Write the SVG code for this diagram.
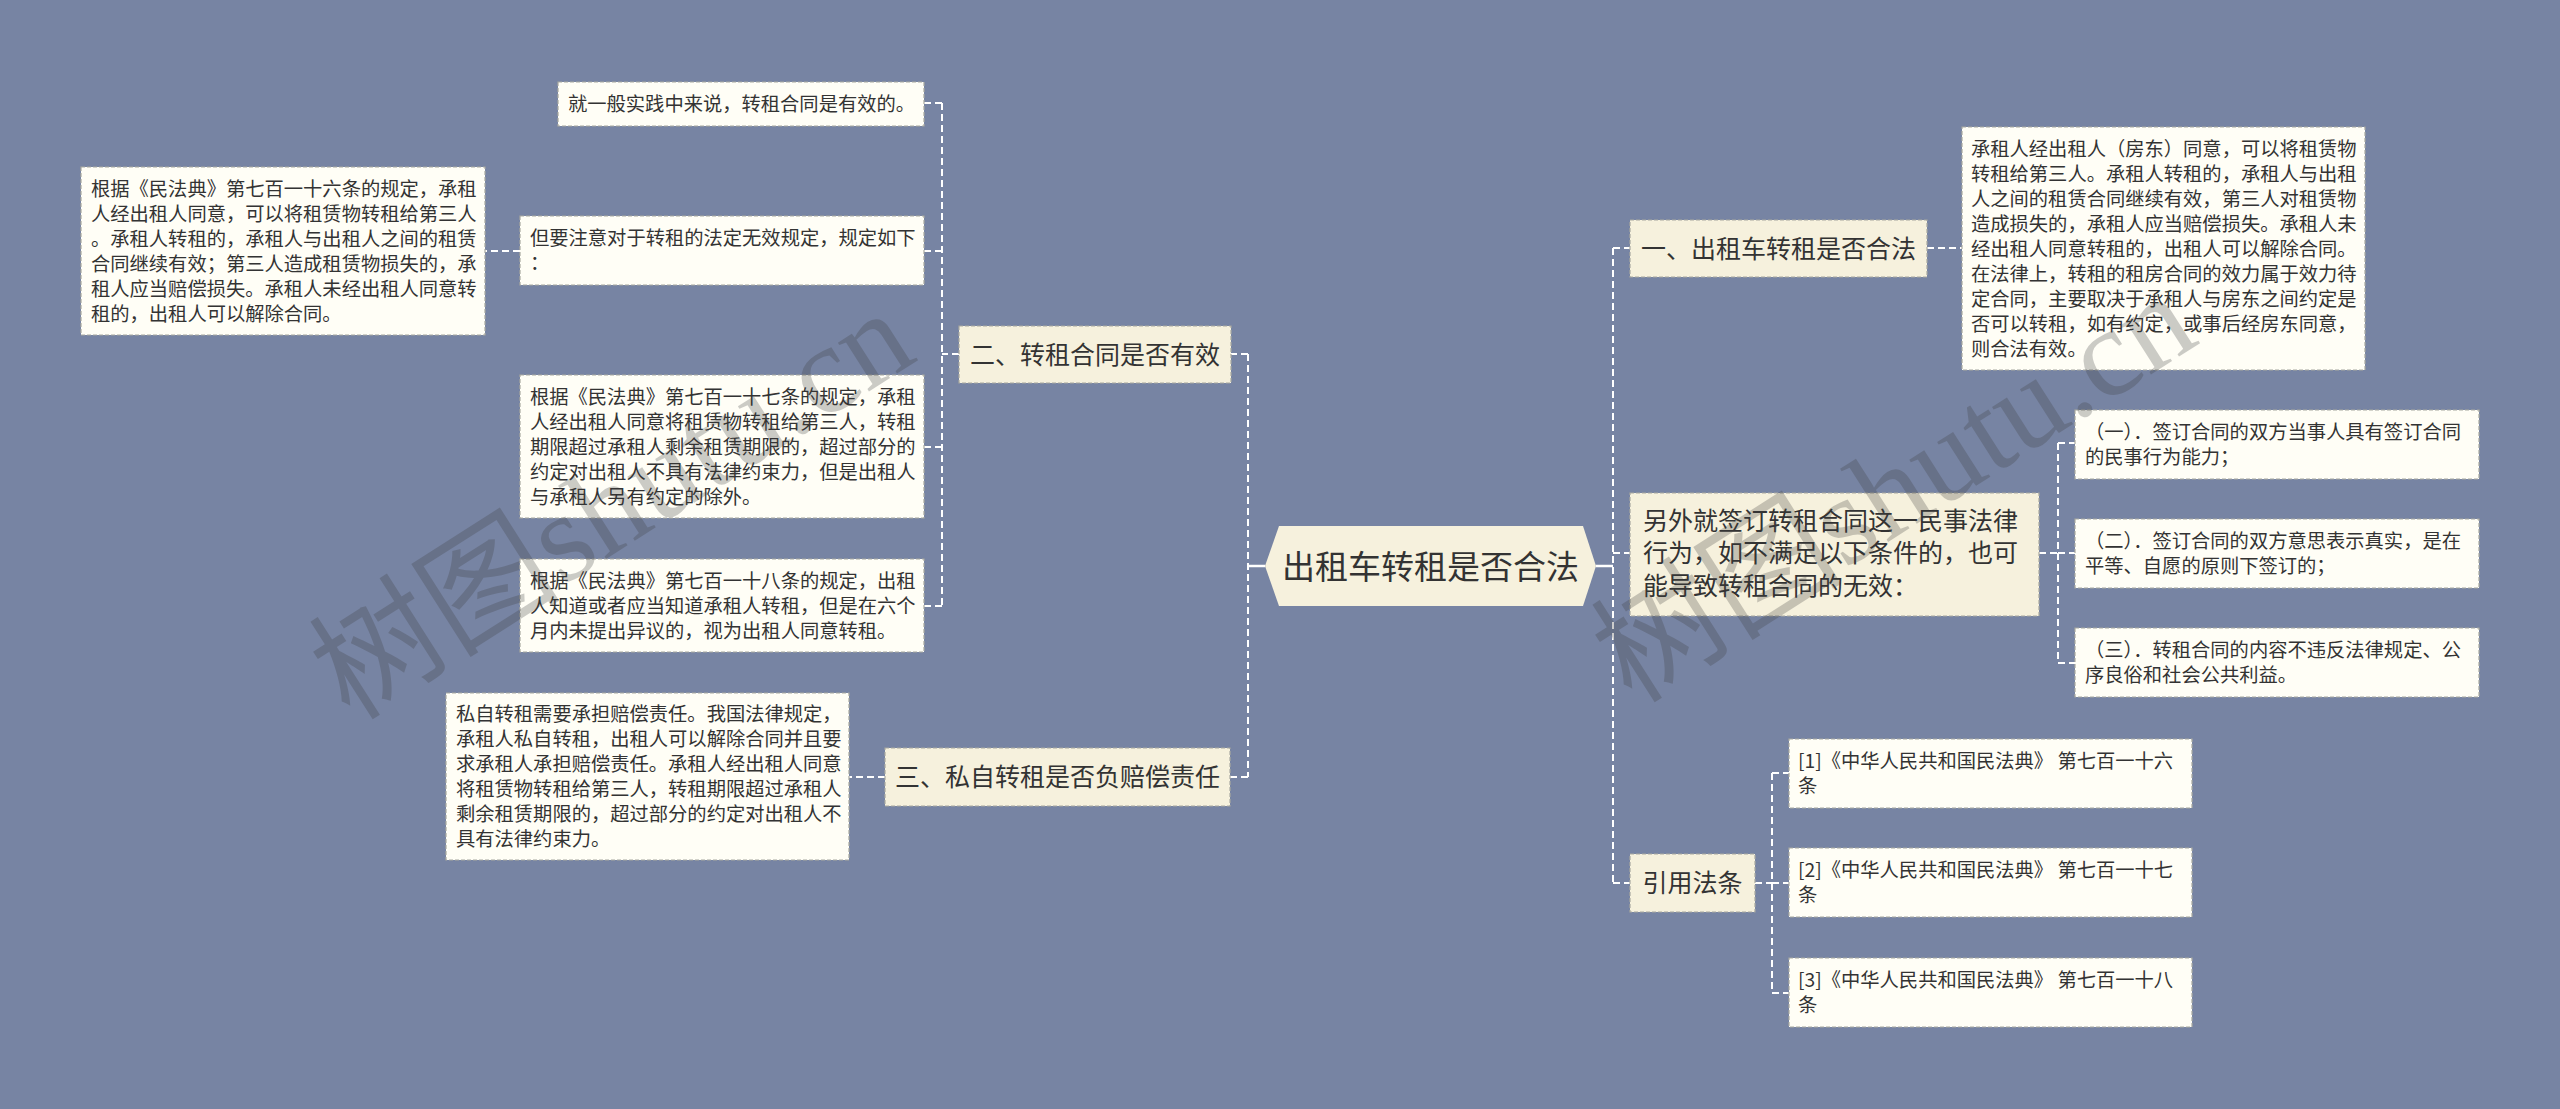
<svg xmlns="http://www.w3.org/2000/svg" width="2560" height="1109" viewBox="0 0 2560 1109">
<style>
.bg{fill:#7784a3}
.leaf{fill:#fffef6;stroke:#a8a8a0;stroke-width:1.2;stroke-dasharray:4 2}
.l1{fill:#f6f1dd;stroke:#a8a8a0;stroke-width:1.2;stroke-dasharray:4 2}
.root{fill:#f6f1dd}
.t{font-family:"Noto Sans CJK SC","Liberation Sans",sans-serif;fill:#333}
.ts{font-size:19.3px}
.tm{font-size:25px}
.tr{font-size:33px}
.c{fill:none;stroke:#ffffff;stroke-width:2;stroke-dasharray:7 4}
.cs{fill:none;stroke:#ffffff;stroke-width:2.5}
.wm{font-family:"Liberation Serif","Noto Sans CJK SC",serif;font-size:126px;fill:#3c3c3c;opacity:0.26}
</style>
<rect class="bg" x="0" y="0" width="2560" height="1109"/>

<g id="connectors">
  <line class="cs" x1="1265" y1="566" x2="1248" y2="566"/>
  <line class="c" x1="1248" y1="354" x2="1248" y2="777"/>
  <line class="c" x1="1248" y1="354" x2="1231" y2="354"/>
  <line class="c" x1="1248" y1="777" x2="1230" y2="777"/>
  <line class="c" x1="959" y1="354" x2="942" y2="354"/>
  <line class="c" x1="942" y1="103" x2="942" y2="606"/>
  <line class="c" x1="942" y1="103" x2="924" y2="103"/>
  <line class="c" x1="942" y1="251" x2="924" y2="251"/>
  <line class="c" x1="942" y1="447" x2="924" y2="447"/>
  <line class="c" x1="942" y1="606" x2="924" y2="606"/>
  <line class="c" x1="520" y1="251" x2="485" y2="251"/>
  <line class="c" x1="885" y1="777" x2="849" y2="777"/>

  <line class="cs" x1="1596" y1="566" x2="1613" y2="566"/>
  <line class="c" x1="1613" y1="248" x2="1613" y2="883"/>
  <line class="c" x1="1613" y1="248" x2="1630" y2="248"/>
  <line class="c" x1="1613" y1="553" x2="1630" y2="553"/>
  <line class="c" x1="1613" y1="883" x2="1630" y2="883"/>
  <line class="c" x1="1927" y1="248" x2="1962" y2="248"/>
  <line class="c" x1="2039" y1="553" x2="2058" y2="553"/>
  <line class="c" x1="2058" y1="443" x2="2058" y2="663"/>
  <line class="c" x1="2058" y1="443" x2="2075" y2="443"/>
  <line class="c" x1="2058" y1="553" x2="2075" y2="553"/>
  <line class="c" x1="2058" y1="663" x2="2075" y2="663"/>
  <line class="c" x1="1755" y1="883" x2="1772" y2="883"/>
  <line class="c" x1="1772" y1="773" x2="1772" y2="993"/>
  <line class="c" x1="1772" y1="773" x2="1789" y2="773"/>
  <line class="c" x1="1772" y1="883" x2="1789" y2="883"/>
  <line class="c" x1="1772" y1="993" x2="1789" y2="993"/>
</g>

<g id="root">
  <polygon class="root" points="1265,566 1279,526 1583,526 1596,566 1583,606 1279,606"/>
  <text class="t tr" x="1430.5" y="578.5" text-anchor="middle">出租车转租是否合法</text>
</g>

<g id="n-er">
  <rect class="l1" x="959" y="326" width="272" height="57"/>
  <text class="t tm" x="1095" y="363.5" text-anchor="middle">二、转租合同是否有效</text>
</g>
<g id="n-san">
  <rect class="l1" x="885" y="748" width="345" height="58"/>
  <text class="t tm" x="1057.5" y="786" text-anchor="middle">三、私自转租是否负赔偿责任</text>
</g>
<g id="n-yi">
  <rect class="l1" x="1630" y="220" width="297" height="57"/>
  <text class="t tm" x="1778.5" y="257.5" text-anchor="middle">一、出租车转租是否合法</text>
</g>
<g id="n-lingwai">
  <rect class="l1" x="1630" y="493" width="409" height="123"/>
  <text class="t tm" x="1643" y="529.5">另外就签订转租合同这一民事法律</text>
  <text class="t tm" x="1643" y="562">行为，如不满足以下条件的，也可</text>
  <text class="t tm" x="1643" y="594.5">能导致转租合同的无效：</text>
</g>
<g id="n-yinyong">
  <rect class="l1" x="1630" y="854" width="125" height="58"/>
  <text class="t tm" x="1692.5" y="892" text-anchor="middle">引用法条</text>
</g>

<g id="leaf-a">
  <rect class="leaf" x="558" y="82" width="366" height="44"/>
  <text class="t ts" x="568" y="111">就一般实践中来说，转租合同是有效的。</text>
</g>
<g id="leaf-b">
  <rect class="leaf" x="81" y="167" width="404" height="168"/>
  <text class="t ts" x="91" y="196">根据《民法典》第七百一十六条的规定，承租</text>
  <text class="t ts" x="91" y="221">人经出租人同意，可以将租赁物转租给第三人</text>
  <text class="t ts" x="91" y="246">。承租人转租的，承租人与出租人之间的租赁</text>
  <text class="t ts" x="91" y="271">合同继续有效；第三人造成租赁物损失的，承</text>
  <text class="t ts" x="91" y="296">租人应当赔偿损失。承租人未经出租人同意转</text>
  <text class="t ts" x="91" y="321">租的，出租人可以解除合同。</text>
</g>
<g id="leaf-c">
  <rect class="leaf" x="520" y="216" width="404" height="69"/>
  <text class="t ts" x="530" y="245">但要注意对于转租的法定无效规定，规定如下</text>
  <text class="t ts" x="530" y="270">：</text>
</g>
<g id="leaf-d">
  <rect class="leaf" x="520" y="375" width="404" height="143"/>
  <text class="t ts" x="530" y="404">根据《民法典》第七百一十七条的规定，承租</text>
  <text class="t ts" x="530" y="429">人经出租人同意将租赁物转租给第三人，转租</text>
  <text class="t ts" x="530" y="454">期限超过承租人剩余租赁期限的，超过部分的</text>
  <text class="t ts" x="530" y="479">约定对出租人不具有法律约束力，但是出租人</text>
  <text class="t ts" x="530" y="504">与承租人另有约定的除外。</text>
</g>
<g id="leaf-e">
  <rect class="leaf" x="520" y="559" width="404" height="93"/>
  <text class="t ts" x="530" y="588">根据《民法典》第七百一十八条的规定，出租</text>
  <text class="t ts" x="530" y="613">人知道或者应当知道承租人转租，但是在六个</text>
  <text class="t ts" x="530" y="638">月内未提出异议的，视为出租人同意转租。</text>
</g>
<g id="leaf-f">
  <rect class="leaf" x="446" y="693" width="403" height="167"/>
  <text class="t ts" x="456" y="721">私自转租需要承担赔偿责任。我国法律规定，</text>
  <text class="t ts" x="456" y="746">承租人私自转租，出租人可以解除合同并且要</text>
  <text class="t ts" x="456" y="771">求承租人承担赔偿责任。承租人经出租人同意</text>
  <text class="t ts" x="456" y="796">将租赁物转租给第三人，转租期限超过承租人</text>
  <text class="t ts" x="456" y="821">剩余租赁期限的，超过部分的约定对出租人不</text>
  <text class="t ts" x="456" y="846">具有法律约束力。</text>
</g>

<g id="leaf-g">
  <rect class="leaf" x="1962" y="127" width="403" height="243"/>
  <text class="t ts" x="1971" y="156">承租人经出租人（房东）同意，可以将租赁物</text>
  <text class="t ts" x="1971" y="181">转租给第三人。承租人转租的，承租人与出租</text>
  <text class="t ts" x="1971" y="206">人之间的租赁合同继续有效，第三人对租赁物</text>
  <text class="t ts" x="1971" y="231">造成损失的，承租人应当赔偿损失。承租人未</text>
  <text class="t ts" x="1971" y="256">经出租人同意转租的，出租人可以解除合同。</text>
  <text class="t ts" x="1971" y="281">在法律上，转租的租房合同的效力属于效力待</text>
  <text class="t ts" x="1971" y="306">定合同，主要取决于承租人与房东之间约定是</text>
  <text class="t ts" x="1971" y="331">否可以转租，如有约定，或事后经房东同意，</text>
  <text class="t ts" x="1971" y="356">则合法有效。</text>
</g>
<g id="leaf-h">
  <rect class="leaf" x="2075" y="410" width="404" height="69"/>
  <text class="t ts" x="2085" y="439">（一）．签订合同的双方当事人具有签订合同</text>
  <text class="t ts" x="2085" y="464">的民事行为能力；</text>
</g>
<g id="leaf-i">
  <rect class="leaf" x="2075" y="519" width="404" height="69"/>
  <text class="t ts" x="2085" y="548">（二）．签订合同的双方意思表示真实，是在</text>
  <text class="t ts" x="2085" y="573">平等、自愿的原则下签订的；</text>
</g>
<g id="leaf-j">
  <rect class="leaf" x="2075" y="628" width="404" height="69"/>
  <text class="t ts" x="2085" y="657">（三）．转租合同的内容不违反法律规定、公</text>
  <text class="t ts" x="2085" y="682">序良俗和社会公共利益。</text>
</g>
<g id="leaf-k">
  <rect class="leaf" x="1789" y="739" width="403" height="69"/>
  <text class="t ts" x="1798" y="768">[1]《中华人民共和国民法典》 第七百一十六</text>
  <text class="t ts" x="1798" y="793">条</text>
</g>
<g id="leaf-l">
  <rect class="leaf" x="1789" y="848" width="403" height="69"/>
  <text class="t ts" x="1798" y="877">[2]《中华人民共和国民法典》 第七百一十七</text>
  <text class="t ts" x="1798" y="902">条</text>
</g>
<g id="leaf-m">
  <rect class="leaf" x="1789" y="958" width="403" height="69"/>
  <text class="t ts" x="1798" y="987">[3]《中华人民共和国民法典》 第七百一十八</text>
  <text class="t ts" x="1798" y="1012">条</text>
</g>

<g id="watermarks">
  <text class="wm" x="350" y="722" transform="rotate(-32.5 350 722)">树图shutu.cn</text>
  <text class="wm" x="1632" y="705" transform="rotate(-32.5 1632 705)">树图shutu.cn</text>
</g>
</svg>
